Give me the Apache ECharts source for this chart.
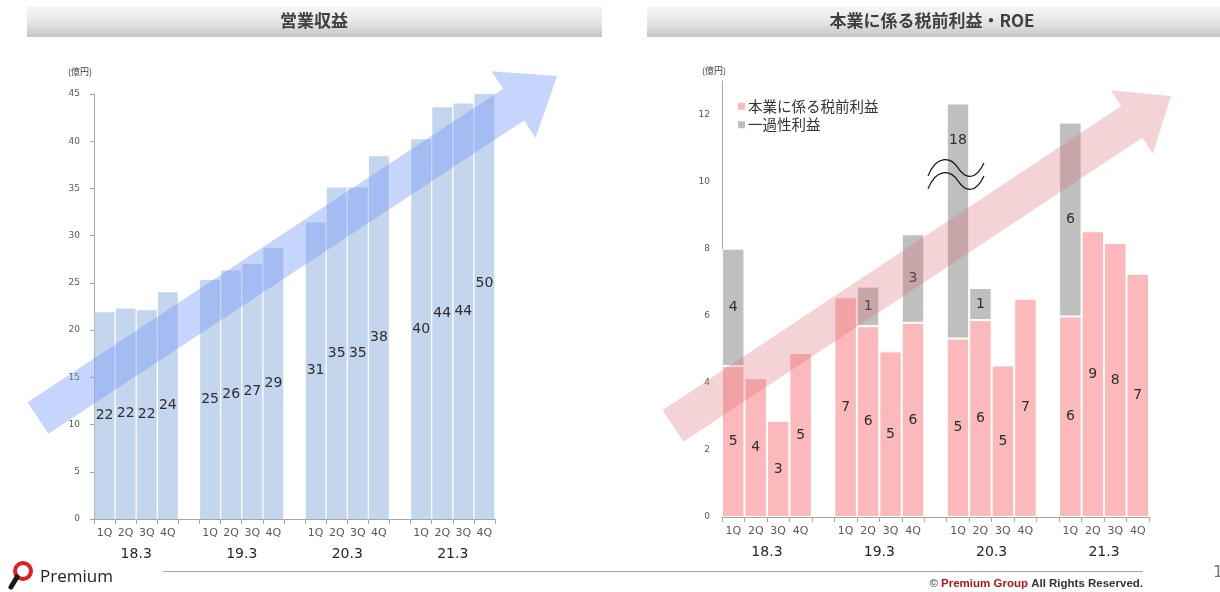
<!DOCTYPE html>
<html><head><meta charset="utf-8">
<script src="https://cdn.jsdelivr.net/npm/echarts@6/dist/echarts.min.js"></script>
<style>html,body{margin:0;padding:0;background:#fff}#c{width:1220px;height:592px}</style>
</head><body><div id="c"></div><script>
// ---- data ----
const quarters = ['1Q', '2Q', '3Q', '4Q'];
const years = ['18.3', '19.3', '20.3', '21.3'];
const revenue = [21.9, 22.3, 22.1, 24.0, 25.3, 26.3, 27.0, 28.7, 31.4, 35.1, 35.1, 38.4, 40.2, 43.6, 44.0, 50.0];
const coreProfit = [4.5, 4.14, 2.87, 4.89, 6.55, 5.69, 4.94, 5.79, 5.32, 5.87, 4.52, 6.51, 5.98, 8.52, 8.17, 7.25];
const oneOffProfit = [3.5, null, null, null, null, 1.18, null, 2.64, 18, 0.96, null, null, 5.78, null, null, null];
const profitBreakAt = 12.33;   // broken bars are drawn up to this axis value
const revenueAxis = { min: 0, max: 45, interval: 5 };
const profitAxis = { min: 0, max: 13, interval: 2 };
const legendNames = ['本業に係る税前利益', '一過性利益'];

const FONT = "'DejaVu Sans','Noto Sans CJK JP',sans-serif";
const JP = "'Noto Sans CJK JP',sans-serif";

// slots: 4 quarters per year + 1 empty gap slot between years
const categories = [];
const slotToIndex = [];
years.forEach((y, g) => {
  quarters.forEach((q, k) => { categories.push(q); slotToIndex.push(g * 4 + k); });
  if (g < years.length - 1) { categories.push(''); slotToIndex.push(null); }
});
function toSlots(arr, fn) {
  return categories.map((c, s) => {
    const i = slotToIndex[s];
    if (i == null || arr[i] == null) return '-';
    return fn ? fn(arr[i], i) : arr[i];
  });
}
const yearCenters = years.map((_, g) => g * 5 + 2);

function catAxis(grid) {
  return {
    type: 'category', gridIndex: grid, data: categories,
    axisLine: { lineStyle: { color: '#a6a6a6' } },
    axisTick: { show: true, interval: 0, length: 5, lineStyle: { color: '#a6a6a6' } },
    axisLabel: { interval: 0, color: '#595959', fontSize: 11, fontFamily: FONT, margin: 9 }
  };
}
function yearAxis(grid) {
  return {
    type: 'value', gridIndex: grid, min: 0, max: categories.length, position: 'bottom', offset: 19,
    axisLine: { show: false }, axisTick: { show: false }, splitLine: { show: false },
    axisLabel: {
      customValues: yearCenters, color: '#262626', fontSize: 14, fontFamily: FONT, margin: 9,
      formatter: v => years[yearCenters.indexOf(v)] || ''
    }
  };
}

const chart = echarts.init(document.getElementById('c'));

function arrowPts(x0, y0, x1, y1, w, hw, hl) {
  const dx = x1 - x0, dy = y1 - y0, L = Math.hypot(dx, dy);
  const ux = dx / L, uy = dy / L, nx = -uy, ny = ux;
  const bx = x1 - ux * hl, by = y1 - uy * hl;
  return [[x0 + nx * w, y0 + ny * w], [bx + nx * w, by + ny * w], [bx + nx * hw, by + ny * hw], [x1, y1],
    [bx - nx * hw, by - ny * hw], [bx - nx * w, by - ny * w], [x0 - nx * w, y0 - ny * w]];
}

const headerFill = () => new echarts.graphic.LinearGradient(0, 0, 0, 1, [{ offset: 0, color: '#f7f7f7' }, { offset: 0.6, color: '#e2e2e2' }, { offset: 1, color: '#c4c4c4' }]);
const baseGraphics = [
  { type: 'rect', shape: { x: 27, y: 6, width: 575, height: 31 }, z: 1,
    style: { fill: headerFill(), shadowBlur: 4, shadowOffsetY: 2, shadowColor: 'rgba(0,0,0,0.3)' } },
  { type: 'rect', shape: { x: 647, y: 6, width: 580, height: 31 }, z: 1,
    style: { fill: headerFill(), shadowBlur: 4, shadowOffsetY: 2, shadowColor: 'rgba(0,0,0,0.3)' } },
  { type: 'text', x: 314, y: 21, z: 2, style: { text: '営業収益', fontFamily: JP, fontWeight: 'bold', fontSize: 17, fill: '#404040', align: 'center', verticalAlign: 'middle' } },
  { type: 'text', x: 932, y: 21, z: 2, style: { text: '本業に係る税前利益・ROE', fontFamily: JP, fontWeight: 'bold', fontSize: 17, fill: '#404040', align: 'center', verticalAlign: 'middle' } },
  // trend arrows
  { type: 'polygon', z: 5, silent: true, shape: { points: arrowPts(38, 418, 557, 76, 19, 40, 52) }, style: { fill: 'rgba(120,155,246,0.42)' } },
  { type: 'polygon', z: 5, silent: true, shape: { points: arrowPts(673, 426, 1171, 96, 19, 38, 47) }, style: { fill: 'rgba(215,110,115,0.3)' } },
  // footer
  { type: 'line', shape: { x1: 163, y1: 571.5, x2: 1143, y2: 571.5 }, style: { stroke: '#a6a6a6', lineWidth: 1 } },
  { type: 'circle', shape: { cx: 23, cy: 571, r: 8 }, style: { fill: 'none', stroke: '#e01e25', lineWidth: 4 } },
  { type: 'line', shape: { x1: 17, y1: 577, x2: 11, y2: 587 }, style: { stroke: '#1a1a1a', lineWidth: 5, lineCap: 'round' } },
  { type: 'text', x: 40, y: 577, style: { text: 'Premium', fontFamily: "'Open Sans',sans-serif", fontSize: 17, fill: '#222', verticalAlign: 'middle' } },
  { type: 'text', x: 1143, y: 584, style: { text: '{a|© }{b|Premium Group}{c| All Rights Reserved.}', align: 'right', verticalAlign: 'middle',
      rich: { a: { fontFamily: "'Liberation Sans',sans-serif", fontSize: 11.5, fill: '#555', fontWeight: 'bold' },
              b: { fontFamily: "'Liberation Sans',sans-serif", fontSize: 11.5, fill: '#b0141c', fontWeight: 'bold' },
              c: { fontFamily: "'Liberation Sans',sans-serif", fontSize: 11.5, fill: '#333', fontWeight: 'bold' } } } },
  { type: 'text', x: 1213, y: 573, style: { text: '1', fontFamily: FONT, fontSize: 16, fill: '#777', verticalAlign: 'middle' } }
];

const option = {
  animation: false,
  backgroundColor: '#fff',
  textStyle: { fontFamily: FONT },
  grid: [
    { left: 94, right: 725, top: 94, bottom: 73 },
    { left: 722, right: 71, top: 81, bottom: 75 }
  ],
  legend: {
    data: legendNames, orient: 'vertical', left: 731, top: 94, icon: 'rect', itemWidth: 9, itemHeight: 9, itemGap: 4,
    textStyle: { fontFamily: JP, fontSize: 14.5, color: '#333', padding: [0, 0, 0, -3] }, selectedMode: false
  },
  xAxis: [catAxis(0), yearAxis(0), catAxis(1), yearAxis(1)],
  yAxis: [
    { type: 'value', gridIndex: 0, min: revenueAxis.min, max: revenueAxis.max, interval: revenueAxis.interval,
      axisLine: { show: true, lineStyle: { color: '#a6a6a6' } },
      axisTick: { show: true, length: 4, lineStyle: { color: '#a6a6a6' } },
      axisLabel: { color: '#595959', fontSize: 9, fontFamily: FONT, margin: 14 },
      splitLine: { show: false },
      name: '(億円)', nameLocation: 'end', nameGap: 18,
      nameTextStyle: { fontFamily: JP, fontSize: 9, color: '#404040', align: 'right', padding: [0, 2, 0, 0] } },
    { type: 'value', gridIndex: 1, min: profitAxis.min, max: profitAxis.max, interval: profitAxis.interval,
      axisLine: { show: true, lineStyle: { color: '#a6a6a6' } },
      axisTick: { show: false },
      axisLabel: { color: '#595959', fontSize: 9, fontFamily: FONT, margin: 12, showMaxLabel: false,
        formatter: v => (v % profitAxis.interval === 0 ? v : '') },
      splitLine: { show: false },
      name: '(億円)', nameLocation: 'end', nameGap: 6,
      nameTextStyle: { fontFamily: JP, fontSize: 9, color: '#404040', align: 'right', padding: [0, -4, 0, 0] } }
  ],
  series: [
    { type: 'bar', xAxisIndex: 0, yAxisIndex: 0, data: toSlots(revenue), barCategoryGap: '6%', barGap: '-100%',
      itemStyle: { color: '#c4d5ee' }, z: 2, silent: true },
    { type: 'bar', xAxisIndex: 0, yAxisIndex: 0, data: toSlots(revenue), barCategoryGap: '6%', barGap: '-100%',
      clip: false, itemStyle: { color: 'rgba(0,0,0,0)' }, z: 10, silent: true,
      label: { show: true, position: 'inside', formatter: p => Math.round(p.value), fontSize: 14, color: '#2e2e2e', fontFamily: FONT } },
    { type: 'bar', name: legendNames[0], xAxisIndex: 2, yAxisIndex: 1, stack: 'profit', data: toSlots(coreProfit),
      barCategoryGap: '0%', itemStyle: { color: '#fbb9bb', borderColor: '#fff', borderWidth: 1 }, z: 2, silent: true,
      label: { show: true, position: 'inside', formatter: p => Math.round(p.value), fontSize: 14, color: '#2e2e2e', fontFamily: FONT } },
    { type: 'bar', name: legendNames[1], xAxisIndex: 2, yAxisIndex: 1, stack: 'profit', barCategoryGap: '0%',
      data: toSlots(oneOffProfit, (v, i) => {
        const top = coreProfit[i] + v;
        if (top > profitBreakAt) {
          return { value: profitBreakAt - coreProfit[i], label: { position: 'insideTop', distance: 30 } };
        }
        return v;
      }),
      itemStyle: { color: '#bfbfbf', borderColor: '#fff', borderWidth: 1 }, z: 2, silent: true,
      label: { show: true, position: 'inside', fontSize: 14, color: '#2e2e2e', fontFamily: FONT,
        formatter: p => Math.round(oneOffProfit[slotToIndex[p.dataIndex]]) } }
  ],
  graphic: baseGraphics
};
chart.setOption(option);

// break marks on truncated bars
const breaks = [];
oneOffProfit.forEach((v, i) => {
  if (v != null && coreProfit[i] + v > profitBreakAt) {
    const slot = slotToIndex.indexOf(i);
    const [cx, cy] = chart.convertToPixel({ seriesIndex: 3 }, [slot, profitBreakAt - 2.1]);
    [0, 13].forEach(off => {
      breaks.push({ type: 'bezierCurve', z: 20, silent: true,
        shape: { x1: cx - 30, y1: cy + 2 + off, cpx1: cx - 22, cpy1: cy - 18 + off, cpx2: cx - 8, cpy2: cy - 18 + off, x2: cx, y2: cy - 6 + off },
        style: { stroke: '#111', lineWidth: 1.2, fill: 'none' } });
      breaks.push({ type: 'bezierCurve', z: 20, silent: true,
        shape: { x1: cx, y1: cy - 6 + off, cpx1: cx + 8, cpy1: cy + 6 + off, cpx2: cx + 18, cpy2: cy + 6 + off, x2: cx + 26, y2: cy - 11 + off },
        style: { stroke: '#111', lineWidth: 1.2, fill: 'none' } });
    });
  }
});
chart.setOption({ graphic: baseGraphics.concat(breaks) });
</script></body></html>
